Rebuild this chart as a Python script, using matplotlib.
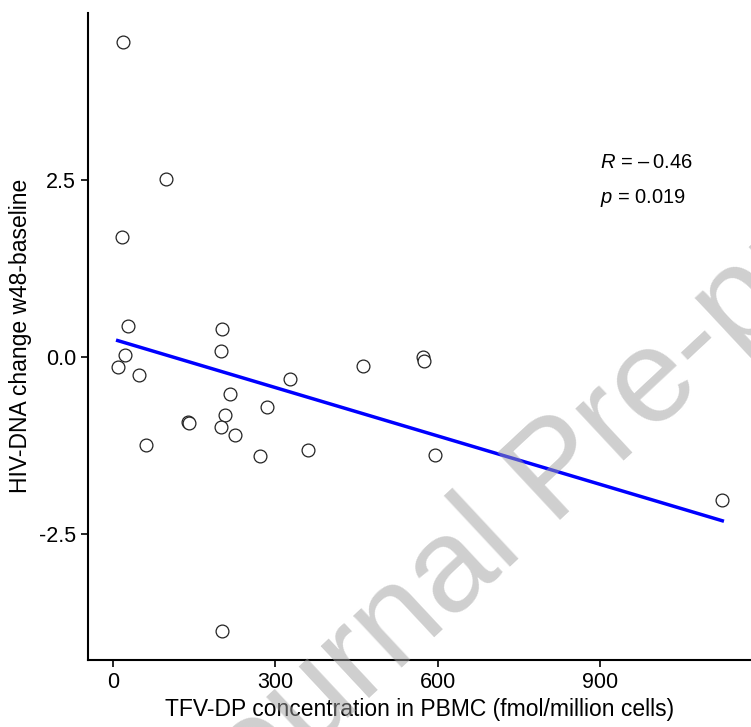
import numpy as np
import matplotlib
matplotlib.use("Agg")
import matplotlib.pyplot as plt

# ------ Data ------#
tfv_dp = [18.8, 98.5, 17.5, 27.3, 201, 199, 21.7, 8.8, 48.2, 461.6, 572, 575, 326.7,
          216.8, 284.4, 207, 139.5, 140.5, 199, 225.5, 61.7, 361, 272, 594, 1125, 201]
hiv_dna = [4.45, 2.52, 1.69, 0.43, 0.40, 0.085, 0.024, -0.15, -0.25, -0.136, 0.0, -0.06, -0.315,
           -0.52, -0.71, -0.83, -0.92, -0.93, -0.99, -1.11, -1.245, -1.32, -1.41, -1.385, -2.02, -3.875]

x_ticks = [0, 300, 600, 900]
y_ticks = [-2.5, 0.0, 2.5]
y_tick_labels = ["-2.5", "0.0", "2.5"]

r_label = "$\\mathit{R}$ = \u2013\u20090.46"
p_label = "$\\mathit{p}$ = 0.019"
#-----------------------------------------#

plt.rcParams['font.family'] = ['Liberation Sans', 'DejaVu Sans']
plt.rcParams['mathtext.fontset'] = 'custom'
plt.rcParams['mathtext.it'] = 'Liberation Sans:italic'
plt.rcParams['mathtext.rm'] = 'Liberation Sans'

fig = plt.figure(figsize=(7.51, 7.27), dpi=100)
ax = fig.add_axes([88/751, 1 - 660/727, 1 - 88/751, (660 - 12.7)/727])

x = np.array(tfv_dp)
y = np.array(hiv_dna)

# linear fit, drawn over the data range like geom_smooth(method="lm")
slope, intercept = np.polyfit(x, y, 1)
xs = np.array([x.min(), x.max()])
ax.plot(xs, intercept + slope*xs, color='#0000ff', lw=2.5, zorder=2)

ax.scatter(x, y, s=85, facecolor='white', edgecolor='#222222', linewidth=0.9, zorder=3)

ax.text(900, 2.75, r_label, fontsize=14.5, ha='left', va='center')
ax.text(900, 2.25, p_label, fontsize=14.5, ha='left', va='center')

ax.set_xlim(-46, 1178)
ax.set_ylim(-4.29, 4.87)
ax.set_xticks(x_ticks)
ax.set_yticks(y_ticks)
ax.set_yticklabels(y_tick_labels)
ax.tick_params(labelsize=15.5, length=5, width=1.2, colors='black', pad=3.5)
for s in ['top', 'right']:
  ax.spines[s].set_visible(False)
for s in ['left', 'bottom']:
  ax.spines[s].set_linewidth(1.5)

ax.set_xlabel("TFV-DP concentration in PBMC (fmol/million cells)", fontsize=16.5, labelpad=4)
ax.set_ylabel("HIV-DNA change w48-baseline", fontsize=16.5, labelpad=5)

# watermark
fig.text(559/751, 1 - 474/727, "Journal Pre-proof", fontsize=96, color='#a0a0a0', alpha=0.5,
         rotation=43, rotation_mode='anchor', ha='center', va='center', zorder=10)

fig.savefig("out.png", dpi=100)
